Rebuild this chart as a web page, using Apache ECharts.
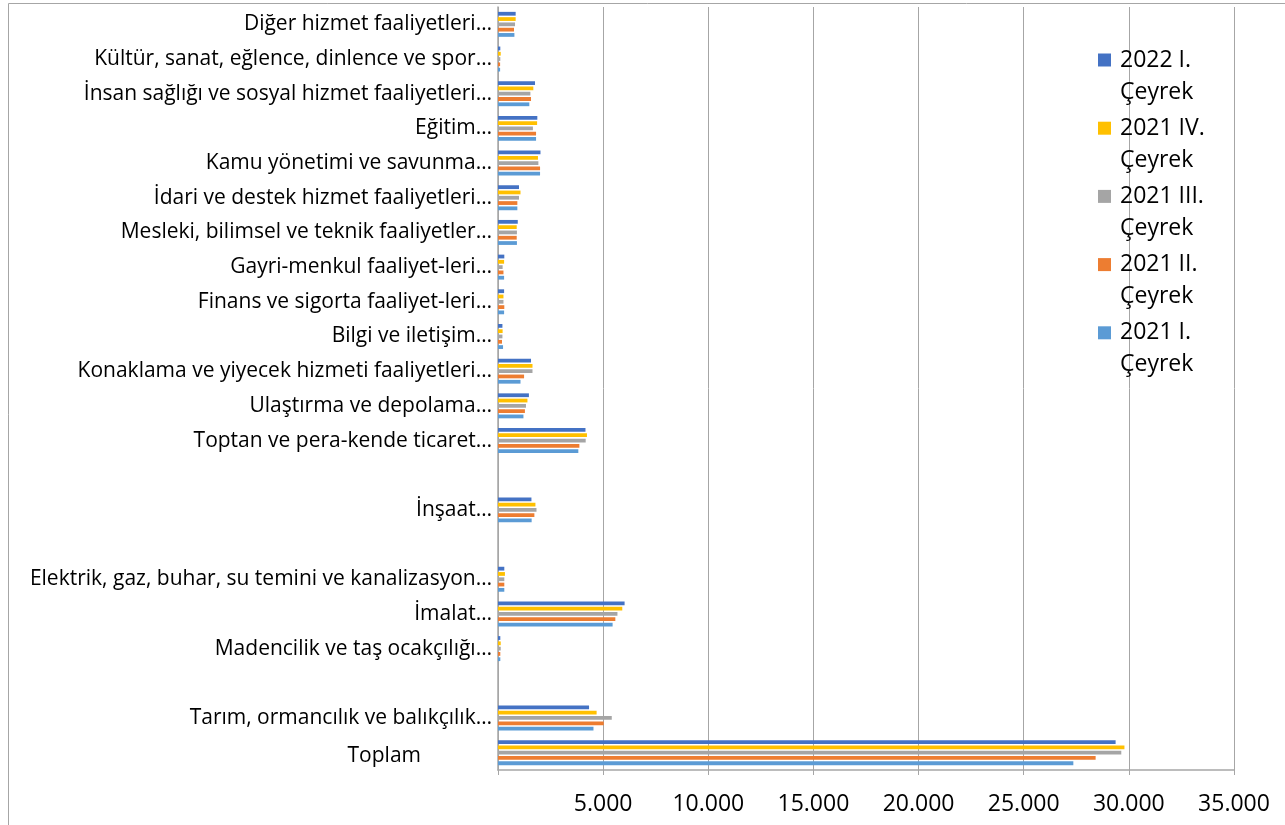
<!DOCTYPE html>
<html>
<head>
<meta charset="utf-8">
<script src="https://cdn.jsdelivr.net/npm/echarts@6/dist/echarts.min.js"></script>
<style>
html,body{margin:0;padding:0;background:#fff;}
#chart{width:1285px;height:825px;}
</style>
</head>
<body>
<div id="chart"></div>
<script>
// Categories, bottom to top (ECharts category axis order)
const categories = [
  'Toplam',
  'Tarım, ormancılık ve balıkçılık…',
  ' ',
  'Madencilik ve taş ocakçılığı…',
  'İmalat…',
  'Elektrik, gaz, buhar, su temini ve kanalizasyon…',
  '  ',
  'İnşaat…',
  '   ',
  'Toptan ve pera-kende ticaret…',
  'Ulaştırma ve depolama…',
  'Konaklama ve yiyecek hizmeti faaliyetleri…',
  'Bilgi ve iletişim…',
  'Finans ve sigorta faaliyet-leri…',
  'Gayri-menkul faaliyet-leri…',
  'Mesleki, bilimsel ve teknik faaliyetler…',
  'İdari ve destek hizmet faaliyetleri…',
  'Kamu yönetimi ve savunma…',
  'Eğitim…',
  'İnsan sağlığı ve sosyal hizmet faaliyetleri…',
  'Kültür, sanat, eğlence, dinlence ve spor…',
  'Diğer hizmet faaliyetleri…'
];

const seriesNames = ['2022 I. Çeyrek', '2021 IV. Çeyrek', '2021 III. Çeyrek', '2021 II. Çeyrek', '2021 I. Çeyrek'];
const seriesColors = ['#4472C4', '#FFC000', '#A5A5A5', '#ED7D31', '#5B9BD5'];

const q2022_1 = [29370, 4330, null, 110, 6020, 300, null, 1590, null, 4160, 1470, 1570, 210, 290, 300, 940, 1000, 2020, 1870, 1760, 110, 840];
const q2021_4 = [29790, 4690, null, 130, 5910, 330, null, 1780, null, 4230, 1400, 1640, 220, 260, 290, 890, 1070, 1900, 1860, 1680, 130, 840];
const q2021_3 = [29640, 5410, null, 130, 5680, 300, null, 1830, null, 4170, 1330, 1640, 210, 260, 220, 900, 1000, 1920, 1660, 1540, 110, 810];
const q2021_2 = [28420, 5030, null, 110, 5580, 300, null, 1730, null, 3870, 1280, 1240, 190, 300, 260, 890, 920, 2000, 1810, 1570, 100, 760];
const q2021_1 = [27360, 4540, null, 110, 5450, 300, null, 1600, null, 3820, 1210, 1070, 240, 290, 290, 900, 920, 2000, 1810, 1490, 100, 780];

const seriesValues = [q2022_1, q2021_4, q2021_3, q2021_2, q2021_1];

const xMin = 0, xMax = 35000, xInterval = 5000;

const FONT = 'Open Sans';

function fmtThousands(v) {
  if (v === 0) return '';
  return String(v).replace(/\B(?=(\d{3})+(?!\d))/g, '.');
}

const legendIconCenters = [60, 128.2, 196.4, 264.6, 332.8];

const chart = echarts.init(document.getElementById('chart'));
const option = {
  backgroundColor: '#ffffff',
  animation: false,
  graphic: [{
    type: 'rect',
    shape: {x: 8.5, y: 3.5, width: 1400, height: 900},
    style: {fill: 'none', stroke: '#a6a6a6', lineWidth: 1},
    silent: true,
    z: -10
  }],
  grid: {left: 498, right: 51, top: 7, bottom: 55, containLabel: false},
  legend: seriesNames.map((n, i) => ({
    data: [n],
    orient: 'vertical',
    left: 1098,
    top: legendIconCenters[i] - 48,
    padding: 0,
    itemWidth: 13,
    itemHeight: 13,
    icon: 'rect',
    selectedMode: false,
    formatter: s => '\u00a0\n' + s.replace(' Çeyrek', '\nÇeyrek'),
    textStyle: {fontFamily: FONT, fontSize: 23, lineHeight: 32, color: '#000', padding: [0, 0, 0, 4]}
  })),
  xAxis: {
    type: 'value',
    min: xMin, max: xMax, interval: xInterval,
    axisLine: {show: true, lineStyle: {color: '#a6a6a6', width: 1.5}},
    axisTick: {show: true, length: 5, lineStyle: {color: '#a6a6a6'}},
    splitLine: {show: true, lineStyle: {color: '#a6a6a6', width: 1}},
    axisLabel: {
      formatter: fmtThousands,
      fontFamily: FONT, fontSize: 23, color: '#000', margin: 23
    }
  },
  yAxis: {
    type: 'category',
    data: categories,
    axisLine: {show: true, lineStyle: {color: '#a6a6a6', width: 1.5}},
    axisTick: {show: false},
    splitLine: {show: false},
    axisLabel: {
      interval: 0,
      fontFamily: FONT, fontSize: 21, color: '#000', margin: 6,
      formatter: v => v === 'Toplam' ? '{t|Toplam}' : v,
      rich: {t: {fontFamily: FONT, fontSize: 21, color: '#000', padding: [6, 71, 0, 0]}}
    }
  },
  series: seriesNames.map((n, i) => ({
    name: n,
    type: 'bar',
    data: seriesValues[i],
    itemStyle: {color: seriesColors[i]},
    barCategoryGap: '28%',
    barGap: '40%'
  }))
};
chart.setOption(option);
</script>
</body>
</html>
